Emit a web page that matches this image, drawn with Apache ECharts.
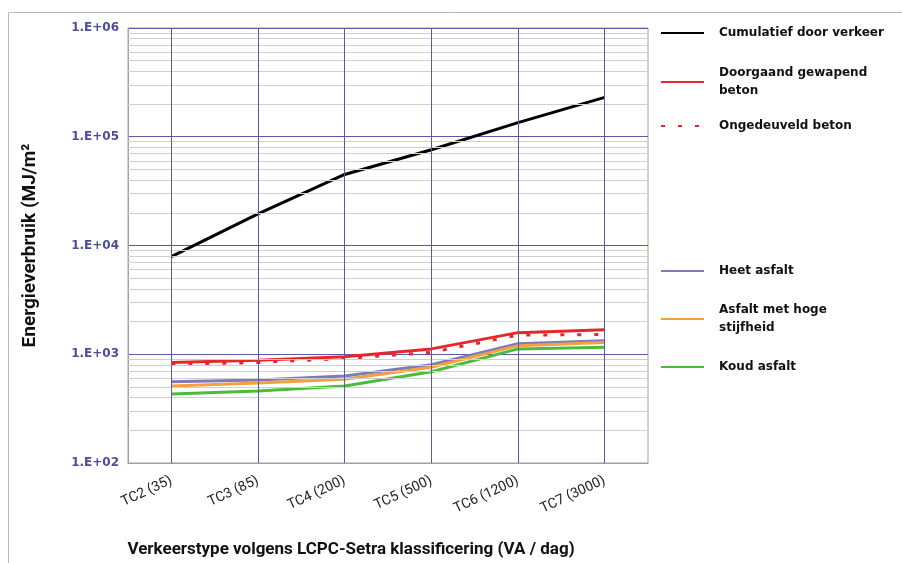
<!DOCTYPE html>
<html><head><meta charset="utf-8">
<script src="https://cdn.jsdelivr.net/npm/echarts@6/dist/echarts.min.js"></script>
<style>html,body{margin:0;padding:0;background:#fff}#c{width:902px;height:563px}</style>
</head><body><div id="c"></div>
<script>
const categories = ['TC2 (35)', 'TC3 (85)', 'TC4 (200)', 'TC5 (500)', 'TC6 (1200)', 'TC7 (3000)'];
const cumulatief = [7900, 19500, 45000, 76000, 135000, 230000];
const doorgaand = [840, 880, 950, 1120, 1580, 1680];
const ongedeuveld = [805, 840, 915, 1040, 1500, 1520];
const heetAsfalt = [560, 580, 630, 800, 1250, 1330];
const hogeStijfheid = [510, 543, 590, 760, 1200, 1280];
const koudAsfalt = [430, 460, 510, 690, 1120, 1160];
const minorTicks = [200,300,400,500,600,700,800,900,2000,3000,4000,5000,6000,7000,8000,9000,
  20000,30000,40000,50000,60000,70000,80000,90000,200000,300000,400000,500000,600000,700000,800000,900000];

const FONT = 'Roboto, Liberation Sans, Arial, sans-serif';
const BFONT = 'DejaVu Sans, Verdana, sans-serif';
const names = ['Cumulatief door verkeer','Doorgaand gewapend\nbeton','Ongedeuveld beton','Heet asfalt','Asfalt met hoge\nstijfheid','Koud asfalt'];
const legendCenters = [33, 82, 126, 271, 319, 367];

const chart = echarts.init(document.getElementById('c'), null, {renderer: 'canvas'});

function line(name, data, color, type) {
  return {
    name, type: 'line', data, symbol: 'none', smooth: false, z: 3,
    lineStyle: {color, width: 3, type: type || 'solid'},
    itemStyle: {color}
  };
}

const legends = names.map((n, i) => {
  const two = n.indexOf('\n') >= 0;
  return {
    data: [n], left: 660, top: legendCenters[i] - (two ? 18 : 9), orient: 'vertical',
    padding: 0, itemWidth: 43, itemHeight: 14, itemGap: 0, selectedMode: false,
    itemStyle: {opacity: 0},
    textStyle: {fontFamily: BFONT, fontSize: 12, fontWeight: 'bold', color: '#111', lineHeight: 18, padding: [0,0,0,10]}
  };
});

chart.setOption({
  animation: false,
  backgroundColor: '#fff',
  graphic: [{type: 'rect', shape: {x: 8.5, y: 12.5, width: 900, height: 570}, style: {fill: 'none', stroke: '#bbbbbb', lineWidth: 1}, silent: true}],
  legend: legends,
  grid: {left: 128, right: 254, top: 28, bottom: 94, show: true, borderColor: '#a0a0a0', borderWidth: 1, backgroundColor: 'transparent'},
  xAxis: {
    type: 'category', data: categories, boundaryGap: true,
    axisLine: {show: true, lineStyle: {color: '#a0a0a0'}},
    axisTick: {show: false},
    splitLine: {show: false},
    axisLabel: {rotate: 25, margin: 17, fontFamily: FONT, fontSize: 14, color: '#222', interval: 0},
    name: 'Verkeerstype volgens LCPC-Setra klassificering (VA / dag)',
    nameLocation: 'middle', nameGap: 78,
    nameTextStyle: {fontFamily: FONT, fontSize: 17, fontWeight: 'bold', color: '#111', padding: [0, 74, 0, 0]}
  },
  yAxis: {
    type: 'log', logBase: 10, min: 100, max: 1000000,
    axisLine: {show: true, lineStyle: {color: '#a0a0a0'}},
    axisTick: {show: false},
    splitLine: {show: true, lineStyle: {color: '#5a5aa6', width: 1}},
    axisLabel: {
      fontFamily: BFONT, fontSize: 12, fontWeight: 'bold', color: '#4c4c9c', margin: 9,
      formatter: v => '1.E+' + String(Math.round(Math.log10(v))).padStart(2, '0')
    },
    name: 'Energieverbruik (MJ/m²',
    nameLocation: 'middle', nameGap: 88,
    nameTextStyle: {fontFamily: FONT, fontSize: 19, fontWeight: 'bold', color: '#111'}
  },
  series: [
    {
      type: 'line', data: [], z: 1, silent: true,
      markLine: {
        silent: true, symbol: 'none', animation: false, label: {show: false},
        data: minorTicks.map(v => ({yAxis: v, lineStyle: {color: '#cfcfcf', width: 1, type: 'solid'}}))
          .concat(categories.map(c => ({xAxis: c, lineStyle: {color: '#5a5aa6', width: 1, type: 'solid'}})))
      }
    },
    line(names[0], cumulatief, '#000000'),
    line(names[1], doorgaand, '#e8262a'),
    line(names[2], ongedeuveld, '#e8262a', [4, 13]),
    line(names[3], heetAsfalt, '#7b7bbd'),
    line(names[4], hogeStijfheid, '#f5a040'),
    line(names[5], koudAsfalt, '#4cbb3c')
  ]
});
</script></body></html>
